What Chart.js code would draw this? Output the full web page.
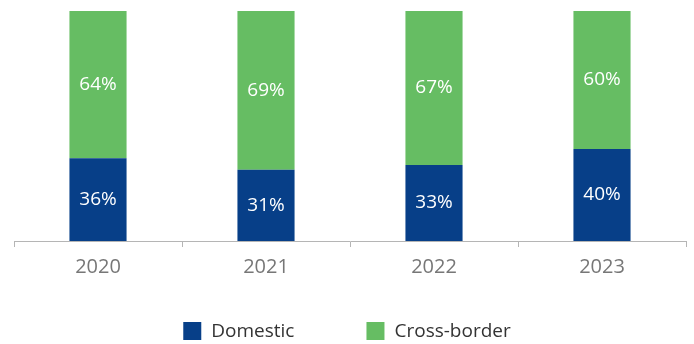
<!DOCTYPE html>
<html>
<head>
<meta charset="utf-8">
<script src="https://cdn.jsdelivr.net/npm/chart.js@4"></script>
<style>
  html, body { margin: 0; padding: 0; background: #fff; }
  #wrap { width: 694px; height: 344px; }
</style>
</head>
<body>
<div id="wrap"><canvas id="chart"></canvas></div>
<script>
const years = ["2020", "2021", "2022", "2023"];
const domestic = [36, 31, 33, 40];
const crossBorder = [64, 69, 67, 60];

const FONT = "'Open Sans', sans-serif";

// draw the percentage inside each segment
const barLabels = {
    id: "barLabels",
    afterDatasetsDraw(chart) {
        const ctx = chart.ctx;
        ctx.save();
        ctx.fillStyle = "#ffffff";
        ctx.font = "19px " + FONT;
        ctx.textAlign = "center";
        ctx.textBaseline = "middle";
        chart.data.datasets.forEach((ds, i) => {
            chart.getDatasetMeta(i).data.forEach((bar, j) => {
                const mid = (bar.y + bar.base) / 2;
                ctx.fillText(ds.data[j] + "%", bar.x, mid);
            });
        });
        ctx.restore();
    },
};

// legend with wide gap between the two items, centred under the chart
const wideLegend = {
    id: "wideLegend",
    afterDraw(chart) {
        const ctx = chart.ctx;
        const box = 18, textGap = 10, itemGap = 72;
        const y = 331;
        ctx.save();
        ctx.font = "19px " + FONT;
        ctx.textBaseline = "middle";
        const items = chart.data.datasets.map((ds) => ({
            label: ds.label,
            color: ds.backgroundColor,
            w: box + textGap + ctx.measureText(ds.label).width,
        }));
        const total = items.reduce((s, it) => s + it.w, 0) + itemGap * (items.length - 1);
        let x = (chart.width - total) / 2;
        items.forEach((it) => {
            ctx.fillStyle = it.color;
            ctx.fillRect(x, y - box / 2, box, box);
            ctx.fillStyle = "#333333";
            ctx.fillText(it.label, x + box + textGap, y + 1);
            x += it.w + itemGap;
        });
        ctx.restore();
    },
};

new Chart(document.getElementById("chart"), {
    type: "bar",
    data: {
        labels: years,
        datasets: [
            {
                label: "Domestic",
                data: domestic,
                backgroundColor: "#073f88",
                barPercentage: 0.34,
                categoryPercentage: 1,
            },
            {
                label: "Cross-border",
                data: crossBorder,
                backgroundColor: "#66bd63",
                barPercentage: 0.34,
                categoryPercentage: 1,
            },
        ],
    },
    options: {
        responsive: true,
        maintainAspectRatio: false,
        animation: false,
        layout: { padding: { top: 11, left: 14, right: 8, bottom: 57 } },
        plugins: {
            tooltip: { enabled: false },
            legend: { display: false },
        },
        scales: {
            x: {
                stacked: true,
                grid: {
                    offset: true,
                    drawOnChartArea: false,
                    color: "#b5b5b5",
                    tickLength: 6,
                },
                border: { color: "#b5b5b5" },
                ticks: {
                    color: "#777777",
                    font: { family: FONT, size: 20 },
                    padding: 8,
                },
            },
            y: {
                stacked: true,
                display: false,
                min: 0,
                max: 100,
            },
        },
    },
    plugins: [barLabels, wideLegend],
});
</script>
</body>
</html>
